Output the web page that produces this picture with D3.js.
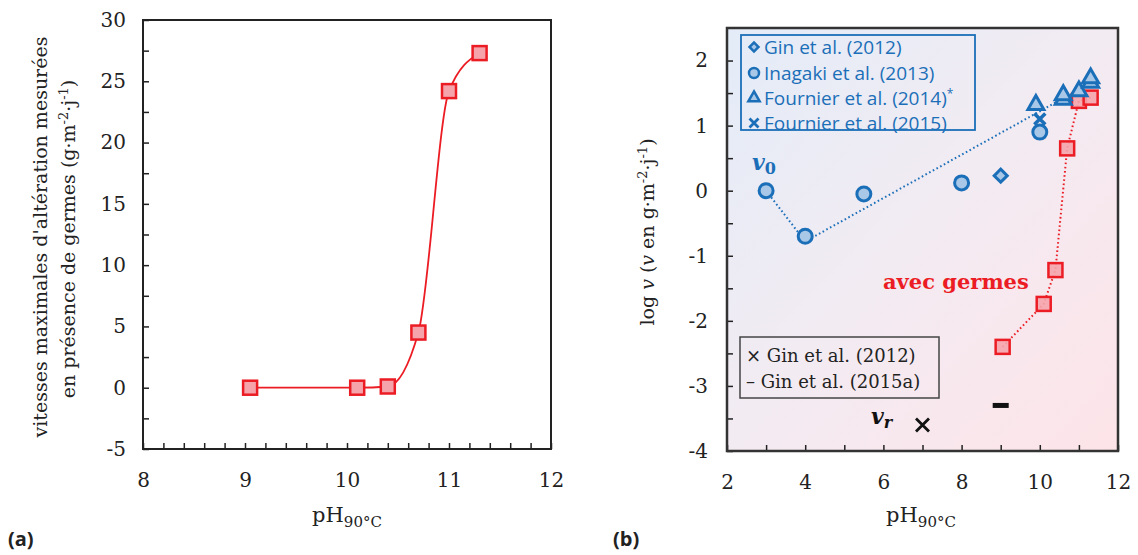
<!DOCTYPE html>
<html><head><meta charset="utf-8">
<script src="https://cdn.jsdelivr.net/npm/d3@7"></script>
<style>body{margin:0;background:#fff}</style>
</head><body><svg id="c" width="1138" height="555"></svg>
<script>
// ---------- data (a) ----------
const leftPH = [9.05, 10.1, 10.4, 10.7, 11.0, 11.3];
const leftRate = [0, 0, 0.1, 4.5, 24.2, 27.3];
const leftXTicks = [8, 9, 10, 11, 12];
const leftYTicks = [-5, 0, 5, 10, 15, 20, 25, 30];
// ---------- data (b) ----------
const ginPH = [9];            const ginLog = [0.23];
const inagakiPH = [3, 4, 5.5, 8, 10];   const inagakiLog = [0, -0.7, -0.05, 0.12, 0.9];
const fournier14PH = [9.9, 10.6, 10.6, 11.0, 11.3, 11.3];
const fournier14Log = [1.32, 1.40, 1.47, 1.53, 1.66, 1.73];
const fournier15PH = [10];    const fournier15Log = [1.1];
const germesPH = [9.05, 10.1, 10.4, 10.7, 11.0, 11.3];
const germesLog = [-2.4, -1.74, -1.22, 0.65, 1.38, 1.43];
const v0TrendPH = [3, 4, 10.6]; const v0TrendLog = [0, -0.78, 1.42];
const vrGin12PH = [7];        const vrGin12Log = [-3.6];
const vrGin15PH = [9];        const vrGin15Log = [-3.3];
const rightXTicks = [2, 4, 6, 8, 10, 12];
const rightYTicks = [-4, -3, -2, -1, 0, 1, 2];
const legendBlue = ["Gin et al. (2012)", "Inagaki et al. (2013)", "Fournier et al. (2014)", "Fournier et al. (2015)"];
const legendBlack = ["Gin et al. (2012)", "Gin et al. (2015a)"];

const svg = d3.select("#c");
const SERIF = "'DejaVu Serif', serif";
const BLUE = "#1b6fb8", BLUEFILL = "#a9c8e8", RED = "#ec1c24", REDFILL = "#f5a4ab";
const fmt = d => String(d);

function styleAxis(g) {
  g.select(".domain").remove();
  g.selectAll(".tick line").attr("stroke", "#222").attr("stroke-width", 1.5);
  g.selectAll(".tick text").attr("font-family", SERIF).attr("font-size", 20).attr("fill", "#222");
}
function phLabel(cx, y) {
  const t = svg.append("text").attr("x", cx).attr("y", y).attr("text-anchor", "middle")
    .attr("font-family", SERIF).attr("font-size", 21).attr("fill", "#222");
  t.append("tspan").text("pH");
  t.append("tspan").attr("dy", 5).attr("font-size", 15).text("90°C");
}

// ================= (a) =================
const ax = d3.scaleLinear().domain([8, 12]).range([143, 551]);
const ay = d3.scaleLinear().domain([-5, 30]).range([449, 20]);

svg.append("g").attr("transform", "translate(0,449)")
  .call(d3.axisBottom(ax).tickValues(d3.range(8, 12.001, 0.2)).tickFormat("").tickSize(-6)).call(styleAxis);
svg.append("g").attr("transform", "translate(0,449)")
  .call(d3.axisBottom(ax).tickValues(leftXTicks).tickFormat(fmt).tickSize(0).tickPadding(24)).call(styleAxis);
svg.append("g").attr("transform", "translate(143,0)")
  .call(d3.axisLeft(ay).tickValues(d3.range(-5, 30.001, 2.5)).tickFormat("").tickSize(-6)).call(styleAxis);
svg.append("g").attr("transform", "translate(143,0)")
  .call(d3.axisLeft(ay).tickValues(leftYTicks).tickFormat(fmt).tickSize(0).tickPadding(17)).call(styleAxis);

svg.append("rect").attr("x", ax(8)).attr("y", ay(30)).attr("width", ax(12) - ax(8)).attr("height", ay(-5) - ay(30))
  .attr("fill", "none").attr("stroke", "#222").attr("stroke-width", 2);

const leftPts = leftPH.map((p, i) => [p, leftRate[i]]);
svg.append("path").datum(leftPts)
  .attr("d", d3.line().x(d => ax(d[0])).y(d => ay(d[1])).curve(d3.curveMonotoneX))
  .attr("fill", "none").attr("stroke", RED).attr("stroke-width", 1.8);
svg.append("g").selectAll("rect").data(leftPts).join("rect")
  .attr("x", d => ax(d[0]) - 7).attr("y", d => ay(d[1]) - 7).attr("width", 14).attr("height", 14)
  .attr("fill", REDFILL).attr("stroke", RED).attr("stroke-width", 2.5);

// y label (a)
svg.append("text").attr("transform", "translate(47,237) rotate(-90)").attr("text-anchor", "middle")
  .attr("font-family", SERIF).attr("font-size", 19).attr("fill", "#222")
  .text("vitesses maximales d'altération mesurées");
const ylA2 = svg.append("text").attr("transform", "translate(75,239) rotate(-90)").attr("text-anchor", "middle")
  .attr("font-family", SERIF).attr("font-size", 19).attr("fill", "#222");
ylA2.append("tspan").text("en présence de germes (g·m");
ylA2.append("tspan").attr("dy", -7).attr("font-size", 13).text("-2");
ylA2.append("tspan").attr("dy", 7).text("·j");
ylA2.append("tspan").attr("dy", -7).attr("font-size", 13).text("-1");
ylA2.append("tspan").attr("dy", 7).text(")");
phLabel(347, 522);
svg.append("text").attr("x", 8).attr("y", 546).attr("font-family", "'Open Sans', sans-serif")
  .attr("font-weight", "bold").attr("font-size", 20).attr("fill", "#222").text("(a)");

// ================= (b) =================
const bx = d3.scaleLinear().domain([2, 12]).range([727, 1118]);
const by = d3.scaleLinear().domain([-4, 2.5]).range([451, 28]);

const defs = svg.append("defs");
const grad = defs.append("linearGradient").attr("id", "bg").attr("x1", 0).attr("y1", 0).attr("x2", 1).attr("y2", 1);
grad.append("stop").attr("offset", 0).attr("stop-color", "#e3ecf8");
grad.append("stop").attr("offset", 0.5).attr("stop-color", "#f3ebf2");
grad.append("stop").attr("offset", 1).attr("stop-color", "#fde4e8");
svg.append("rect").attr("x", bx(2)).attr("y", by(2.5)).attr("width", bx(12) - bx(2)).attr("height", by(-4) - by(2.5))
  .attr("fill", "url(#bg)");

svg.append("g").attr("transform", "translate(0,451)")
  .call(d3.axisBottom(bx).tickValues(d3.range(2, 12.001, 1)).tickFormat("").tickSize(-6)).call(styleAxis);
svg.append("g").attr("transform", "translate(0,451)")
  .call(d3.axisBottom(bx).tickValues(rightXTicks).tickFormat(fmt).tickSize(0).tickPadding(24)).call(styleAxis);
svg.append("g").attr("transform", "translate(727,0)")
  .call(d3.axisLeft(by).tickValues(d3.range(-4, 2.001, 0.5)).tickFormat("").tickSize(-6)).call(styleAxis);
svg.append("g").attr("transform", "translate(727,0)")
  .call(d3.axisLeft(by).tickValues(rightYTicks).tickFormat(fmt).tickSize(0).tickPadding(19)).call(styleAxis);
svg.append("rect").attr("x", bx(2)).attr("y", by(2.5)).attr("width", bx(12) - bx(2)).attr("height", by(-4) - by(2.5))
  .attr("fill", "none").attr("stroke", "#333").attr("stroke-width", 2.5);

// dotted lines
const lineB = d3.line().x(d => bx(d[0])).y(d => by(d[1]));
svg.append("path").datum(v0TrendPH.map((p, i) => [p, v0TrendLog[i]])).attr("d", lineB)
  .attr("fill", "none").attr("stroke", BLUE).attr("stroke-width", 2).attr("stroke-dasharray", "1.6,2.6");
svg.append("path").datum(germesPH.map((p, i) => [p, germesLog[i]])).attr("d", lineB)
  .attr("fill", "none").attr("stroke", RED).attr("stroke-width", 2).attr("stroke-dasharray", "1.6,2.6");

// markers
const symTri = d3.symbol().type(d3.symbolTriangle).size(110);
function drawX(g, x, y, r, color, w) {
  g.append("path").attr("d", `M${x - r},${y - r}L${x + r},${y + r}M${x - r},${y + r}L${x + r},${y - r}`)
    .attr("stroke", color).attr("stroke-width", w).attr("fill", "none");
}
const mk = svg.append("g");
mk.selectAll("circle.in").data(inagakiPH.map((p, i) => [p, inagakiLog[i]])).join("circle")
  .attr("cx", d => bx(d[0])).attr("cy", d => by(d[1])).attr("r", 7)
  .attr("fill", BLUEFILL).attr("stroke", BLUE).attr("stroke-width", 3);
fournier15PH.forEach((p, i) => drawX(mk, bx(p), by(fournier15Log[i]), 5.5, BLUE, 3.5));
mk.selectAll("path.gin").data(ginPH.map((p, i) => [p, ginLog[i]])).join("path")
  .attr("d", d3.symbol().type(d3.symbolSquare).size(85)())
  .attr("transform", d => `translate(${bx(d[0])},${by(d[1])}) rotate(45)`)
  .attr("fill", BLUEFILL).attr("stroke", BLUE).attr("stroke-width", 3);
mk.selectAll("rect.ger").data(germesPH.map((p, i) => [p, germesLog[i]])).join("rect")
  .attr("x", d => bx(d[0]) - 7).attr("y", d => by(d[1]) - 7).attr("width", 14).attr("height", 14)
  .attr("fill", REDFILL).attr("fill-opacity", 0.9).attr("stroke", RED).attr("stroke-width", 2.5);
mk.selectAll("path.tri").data(fournier14PH.map((p, i) => [p, fournier14Log[i]])).join("path")
  .attr("transform", d => `translate(${bx(d[0])},${by(d[1])})`).attr("d", symTri())
  .attr("fill", BLUEFILL).attr("stroke", BLUE).attr("stroke-width", 3);
vrGin12PH.forEach((p, i) => drawX(mk, bx(p), by(vrGin12Log[i]), 6.5, "#111", 2.8));
vrGin15PH.forEach((p, i) => mk.append("rect").attr("x", bx(p) - 8).attr("y", by(vrGin15Log[i]) - 2.5)
  .attr("width", 16).attr("height", 5).attr("fill", "#111"));

// annotations
const v0 = svg.append("text").attr("x", 752).attr("y", 170).attr("font-family", SERIF)
  .attr("font-weight", "bold").attr("font-style", "italic").attr("font-size", 22).attr("fill", BLUE);
v0.append("tspan").text("v");
v0.append("tspan").attr("dy", 4).attr("font-size", 16).attr("font-style", "normal").text("0");
const vr = svg.append("text").attr("x", 871).attr("y", 424).attr("font-family", SERIF)
  .attr("font-weight", "bold").attr("font-style", "italic").attr("font-size", 22).attr("fill", "#111");
vr.append("tspan").text("v");
vr.append("tspan").attr("dy", 4).attr("font-size", 16).text("r");
svg.append("text").attr("x", 883).attr("y", 289).attr("font-family", SERIF).attr("font-weight", "bold")
  .attr("font-size", 21).attr("fill", RED).text("avec germes");

// legend blue
const lg = svg.append("g");
lg.append("rect").attr("x", 741).attr("y", 35).attr("width", 234).attr("height", 95)
  .attr("fill", "none").attr("stroke", BLUE).attr("stroke-width", 1.8);
const rowY = [47, 73, 98, 123];
legendBlue.forEach((t, i) => {
  const tx = lg.append("text").attr("x", 764).attr("y", rowY[i] + 6.5).attr("font-family", "'Open Sans', sans-serif")
    .attr("font-size", 19).attr("fill", BLUE).text(t);
  if (i === 2) tx.append("tspan").attr("dy", -7).attr("font-size", 12).text("*");
});
lg.append("path").attr("transform", `translate(754,${rowY[0]}) rotate(45)`).attr("d", d3.symbol().type(d3.symbolSquare).size(40)())
  .attr("fill", BLUEFILL).attr("stroke", BLUE).attr("stroke-width", 2.5);
lg.append("circle").attr("cx", 754).attr("cy", rowY[1]).attr("r", 5).attr("fill", BLUEFILL).attr("stroke", BLUE).attr("stroke-width", 2.5);
lg.append("path").attr("transform", `translate(754,${rowY[2]})`).attr("d", d3.symbol().type(d3.symbolTriangle).size(55)())
  .attr("fill", BLUEFILL).attr("stroke", BLUE).attr("stroke-width", 2.5);
drawX(lg, 754, rowY[3], 4.5, BLUE, 2.8);

// legend black
const lb = svg.append("g");
lb.append("rect").attr("x", 740).attr("y", 337).attr("width", 199).attr("height", 61)
  .attr("fill", "none").attr("stroke", "#444").attr("stroke-width", 1.5);
lb.append("text").attr("x", 746).attr("y", 362).attr("font-family", SERIF).attr("font-size", 18).attr("fill", "#222")
  .text("× " + legendBlack[0]);
lb.append("text").attr("x", 746).attr("y", 388).attr("font-family", SERIF).attr("font-size", 18).attr("fill", "#222")
  .text("– " + legendBlack[1]);

// y label (b)
const ylB = svg.append("text").attr("transform", "translate(654,232) rotate(-90)").attr("text-anchor", "middle")
  .attr("font-family", SERIF).attr("font-size", 19).attr("fill", "#222");
ylB.append("tspan").text("log ");
ylB.append("tspan").attr("font-style", "italic").text("v");
ylB.append("tspan").text(" (");
ylB.append("tspan").attr("font-style", "italic").text("v");
ylB.append("tspan").text(" en g·m");
ylB.append("tspan").attr("dy", -7).attr("font-size", 13).text("-2");
ylB.append("tspan").attr("dy", 7).text("·j");
ylB.append("tspan").attr("dy", -7).attr("font-size", 13).text("-1");
ylB.append("tspan").attr("dy", 7).text(")");
phLabel(921, 522);
svg.append("text").attr("x", 613).attr("y", 546).attr("font-family", "'Open Sans', sans-serif")
  .attr("font-weight", "bold").attr("font-size", 20).attr("fill", "#222").text("(b)");
</script></body></html>
